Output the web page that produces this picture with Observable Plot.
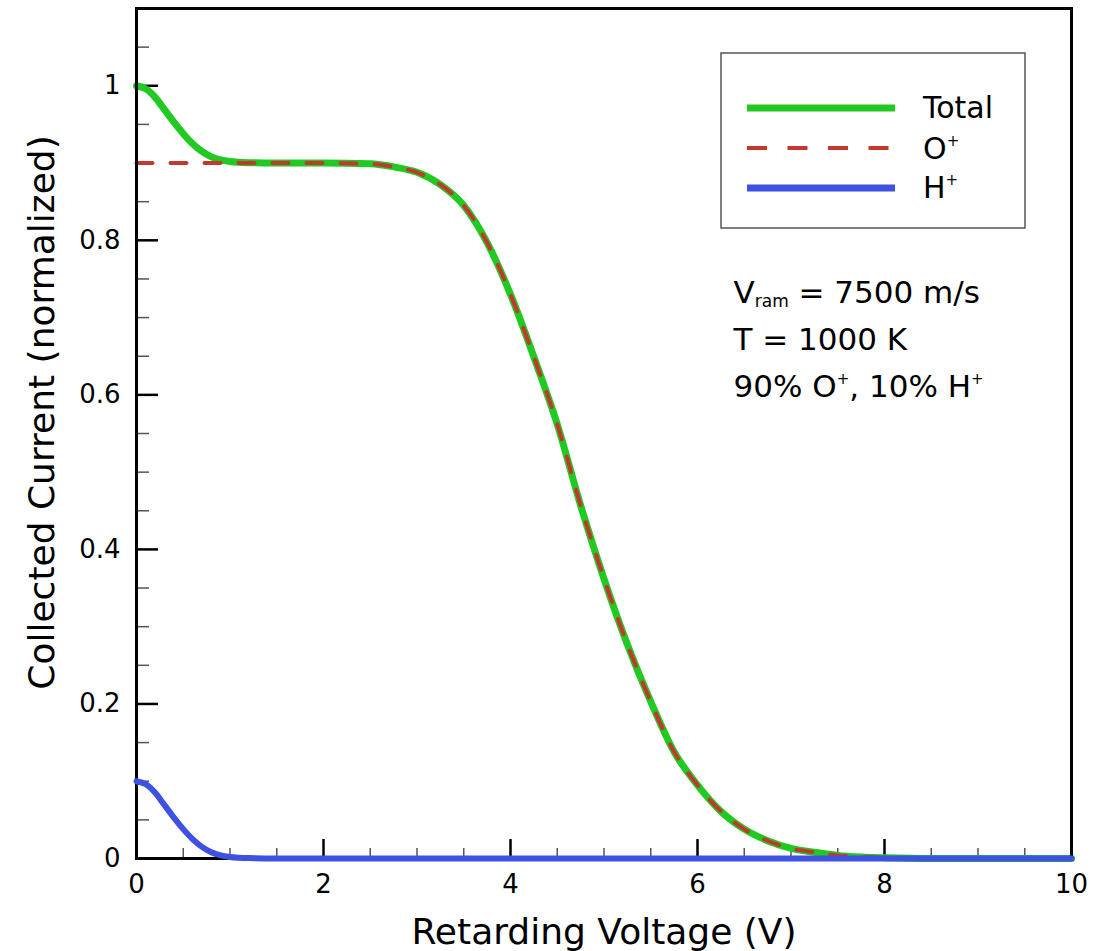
<!DOCTYPE html>
<html>
<head>
<meta charset="utf-8">
<script src="https://cdn.jsdelivr.net/npm/d3@7"></script>
<script src="https://cdn.jsdelivr.net/npm/@observablehq/plot@0.6"></script>
<style>
  body { margin: 0; background: #fff; }
  #chart svg { display: block; }
</style>
</head>
<body>
<div id="chart"></div>
<script>
// ---- Data ----
const voltage = [0, 0.1, 0.2, 0.3, 0.4, 0.5, 0.6, 0.7, 0.8, 0.9, 1.0, 1.2, 1.5, 2.0,
  2.5, 2.75, 3.0, 3.25, 3.5, 3.75, 4.0, 4.25, 4.5, 4.75, 5.0, 5.25, 5.5, 5.75, 6.0,
  6.25, 6.5, 6.75, 7.0, 7.25, 7.5, 7.75, 8.0, 8.5, 9.0, 10.0];
const totalCurrent = [1.000, 0.996, 0.985, 0.969, 0.953, 0.938, 0.925, 0.915, 0.908, 0.904, 0.902, 0.9005, 0.9, 0.9,
  0.899, 0.895, 0.888, 0.872, 0.845, 0.797, 0.730, 0.649, 0.562, 0.457, 0.362, 0.277, 0.203, 0.138, 0.095,
  0.061, 0.038, 0.023, 0.013, 0.008, 0.004, 0.002, 0.001, 0, 0, 0];
const oxygenCurrent = [0.9, 0.9, 0.9, 0.9, 0.9, 0.9, 0.9, 0.9, 0.9, 0.9, 0.9, 0.9, 0.9, 0.9,
  0.899, 0.895, 0.888, 0.872, 0.845, 0.797, 0.730, 0.649, 0.562, 0.457, 0.362, 0.277, 0.203, 0.138, 0.095,
  0.061, 0.038, 0.023, 0.013, 0.008, 0.004, 0.002, 0.001, 0, 0, 0];
const hydrogenCurrent = [0.100, 0.096, 0.085, 0.069, 0.053, 0.038, 0.025, 0.015, 0.008, 0.004, 0.002, 0.0005, 0, 0,
  0, 0, 0, 0, 0, 0, 0, 0, 0, 0, 0, 0, 0, 0, 0,
  0, 0, 0, 0, 0, 0, 0, 0, 0, 0, 0];

const xMajorTicks = [0, 2, 4, 6, 8, 10];
const xMinorTicks = [0.5, 1, 1.5, 2.5, 3, 3.5, 4.5, 5, 5.5, 6.5, 7, 7.5, 8.5, 9, 9.5];
const yMajorTicks = [0, 0.2, 0.4, 0.6, 0.8, 1];
const yMinorTicks = [0.05, 0.1, 0.15, 0.25, 0.3, 0.35, 0.45, 0.5, 0.55, 0.65, 0.7, 0.75, 0.85, 0.9, 0.95, 1.05];
const yTickLabels = ["0", "0.2", "0.4", "0.6", "0.8", "1"];

const seriesNames = ["Total", "O^{+}", "H^{+}"];
const annotationLines = ["V_{ram} = 7500 m/s", "T = 1000 K", "90% O^{+}, 10% H^{+}"];
const xLabel = "Retarding Voltage (V)";
const yLabel = "Collected Current (normalized)";

// ---- Layout & style ----
const W = 1104, H = 951, ML = 136, MR = 33, MT = 8, MB = 93;
const PW = W - ML - MR, PH = H - MT - MB;
const FONT = "'DejaVu Sans', 'Liberation Sans', sans-serif";
const GREEN = "#22c922", RED = "#c2382e", BLUE = "#3f51e0";

const rows = voltage.map((v, i) => ({v, total: totalCurrent[i], o: oxygenCurrent[i], h: hydrogenCurrent[i]}));

const svg = Plot.plot({
  width: W, height: H,
  marginLeft: ML, marginRight: MR, marginTop: MT, marginBottom: MB,
  style: {fontFamily: FONT, fontSize: "26px", color: "#000", background: "#fff"},
  x: {domain: [0, 10]},
  y: {domain: [0, 1.1]},
  marks: [
    Plot.axisX({ticks: xMajorTicks, tickSize: 0, tickPadding: 16, label: null, fontSize: 26}),
    Plot.axisY({ticks: yMajorTicks, tickSize: 0, tickPadding: 16, label: null, fontSize: 26,
      tickFormat: d => yTickLabels[yMajorTicks.indexOf(d)]}),
    Plot.tickX(xMinorTicks, {x: d => d, insetTop: PH - 10, stroke: "#555", strokeWidth: 1.5}),
    Plot.tickX(xMajorTicks, {x: d => d, insetTop: PH - 19, stroke: "#000", strokeWidth: 2.5}),
    Plot.tickY(yMinorTicks, {y: d => d, insetRight: PW - 13, stroke: "#555", strokeWidth: 1.5}),
    Plot.tickY(yMajorTicks, {y: d => d, insetRight: PW - 22, stroke: "#000", strokeWidth: 2.5}),
    Plot.line(rows, {x: "v", y: "total", stroke: GREEN, strokeWidth: 7, curve: "monotone-x"}),
    Plot.line(rows, {x: "v", y: "o", stroke: RED, strokeWidth: 4, strokeDasharray: "16,18", curve: "monotone-x"}),
    Plot.frame({stroke: "#000", strokeWidth: 3}),
    Plot.line(rows, {x: "v", y: "h", stroke: BLUE, strokeWidth: 6, curve: "monotone-x"}),
    Plot.text([xLabel], {frameAnchor: "bottom", dy: 85, lineAnchor: "bottom", textAnchor: "middle", fontSize: 36}),
    Plot.text([yLabel], {frameAnchor: "left", rotate: -90, dx: -83, dy: -21, lineAnchor: "bottom", textAnchor: "middle", fontSize: 36}),
    ...annotationLines.map((t, i) => Plot.text([t], {
      frameAnchor: "top-left", dx: 597, dy: 294 + i * 47,
      textAnchor: "start", lineAnchor: "bottom", fontSize: 31, ariaLabel: "annotation"
    }))
  ]
});

// rich text: _{sub} and ^{sup}
const NS = "http://www.w3.org/2000/svg";
function richify(el, subSize, subShift, supSize, supRaise) {
  const s = el.textContent;
  if (!/[_^]\{/.test(s)) return;
  el.textContent = "";
  const re = /([_^])\{([^}]*)\}/g;
  let last = 0, m, pending = 0;
  const add = (txt, size, dy) => {
    if (!txt) return;
    const t = document.createElementNS(NS, "tspan");
    t.textContent = txt;
    if (size) t.setAttribute("font-size", size);
    if (dy) t.setAttribute("dy", dy);
    el.appendChild(t);
  };
  while ((m = re.exec(s))) {
    add(s.slice(last, m.index), null, pending); pending = 0;
    if (m[1] === "_") { add(m[2], subSize, subShift); pending = -subShift; }
    else { add(m[2], supSize, -supRaise); pending = supRaise; }
    last = re.lastIndex;
  }
  add(s.slice(last), null, pending);
}
d3.select(svg).selectAll("text").each(function () { richify(this, 17, 4, 15, 13); });

// legend
const lg = d3.select(svg).append("g").attr("font-family", FONT).attr("font-size", 30)
  .attr("text-anchor", "start");
lg.append("rect").attr("x", 721).attr("y", 53).attr("width", 304).attr("height", 175)
  .attr("fill", "#fff").attr("stroke", "#555").attr("stroke-width", 1.5);
const legendStyles = [
  {stroke: GREEN, width: 7, dash: null, y: 108, base: 118},
  {stroke: RED, width: 4, dash: "20,20.5", y: 148, base: 159},
  {stroke: BLUE, width: 7, dash: null, y: 188, base: 198}
];
seriesNames.forEach((name, i) => {
  const st = legendStyles[i];
  const ln = lg.append("line").attr("x1", 747).attr("x2", 895).attr("y1", st.y).attr("y2", st.y)
    .attr("stroke", st.stroke).attr("stroke-width", st.width);
  if (st.dash) ln.attr("stroke-dasharray", st.dash);
  const tx = lg.append("text").attr("x", 923).attr("y", st.base).attr("fill", "#000")
    .attr("text-anchor", "start").text(name);
  richify(tx.node(), 17, 4, 15, 13);
});

document.getElementById("chart").appendChild(svg);
</script>
</body>
</html>
